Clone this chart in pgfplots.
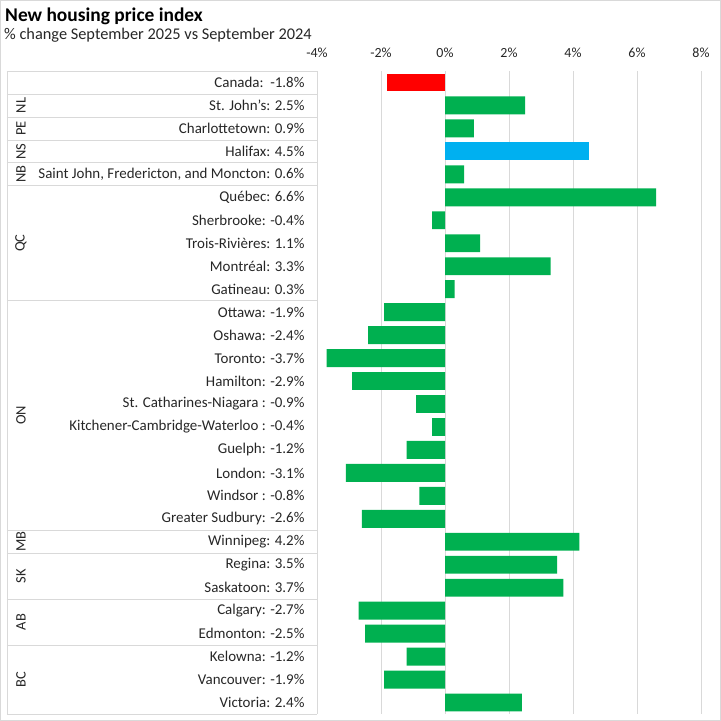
\documentclass[border=0pt]{standalone}
\usepackage{pgfplots}
\pgfplotsset{compat=1.18}
\usepackage{fontspec}
\setmainfont{Carlito}
\definecolor{barG}{HTML}{00B050}
\definecolor{barR}{HTML}{FF0000}
\definecolor{barB}{HTML}{00B0F0}
\definecolor{linegray}{HTML}{D9D9D9}
\definecolor{txt}{HTML}{262626}
\begin{document}
\begin{tikzpicture}[x=1bp,y=1bp]
\useasboundingbox (0,0) rectangle (721,-721);
\draw[linegray] (0.5,-0.5) rectangle (720.5,-720.5);
\node[anchor=west,inner sep=0pt,font=\fontsize{19.5}{22}\selectfont\bfseries,text=black] at (5,-16) {New housing price index};
\node[anchor=west,inner sep=0pt,font=\fontsize{16.4}{19}\selectfont,text=txt] at (4,-35) {\% change September 2025 vs September 2024};
\begin{axis}[
  at={(317bp,-71bp)}, anchor=north west,
  scale only axis, width=384bp, height=643bp,
  xmin=-4, xmax=8, ymin=-0.5, ymax=27.5, y dir=reverse,
  xbar, bar width=0.78, bar shift=0pt,
  xtick={-4,-2,0,2,4,6,8},
  xticklabels={-4\%,-2\%,0\%,2\%,4\%,6\%,8\%},
  xticklabel pos=upper,
  ytick={0,...,27},
  yticklabels={
    {Canada:\ \ -1.8\%},
    {St. John's: 2.5\%},
    {Charlottetown: 0.9\%},
    {Halifax: 4.5\%},
    {Saint John, Fredericton, and Moncton: 0.6\%},
    {Québec: 6.6\%},
    {Sherbrooke: -0.4\%},
    {Trois-Rivières: 1.1\%},
    {Montréal: 3.3\%},
    {Gatineau: 0.3\%},
    {Ottawa: -1.9\%},
    {Oshawa: -2.4\%},
    {Toronto: -3.7\%},
    {Hamilton: -2.9\%},
    {St. Catharines-Niagara : -0.9\%},
    {Kitchener-Cambridge-Waterloo : -0.4\%},
    {Guelph: -1.2\%},
    {London: -3.1\%},
    {Windsor : -0.8\%},
    {Greater Sudbury: -2.6\%},
    {Winnipeg: 4.2\%},
    {Regina: 3.5\%},
    {Saskatoon: 3.7\%},
    {Calgary: -2.7\%},
    {Edmonton: -2.5\%},
    {Kelowna: -1.2\%},
    {Vancouver: -1.9\%},
    {Victoria: 2.4\%}},
  xmajorgrids, grid style={linegray, line width=0.8pt},
  axis line style={draw=none},
  major tick length=0pt,
  tick label style={font=\fontsize{15}{17}\selectfont, text=txt},
  xticklabel style={font=\fontsize{14}{16}\selectfont, yshift=10bp},
  yticklabel style={xshift=-9bp},
  clip=false,
]
\addplot[fill=barR, draw=none] coordinates {(-1.8,0)};
\addplot[fill=barB, draw=none] coordinates {(4.5,3)};
\addplot[fill=barG, draw=none] coordinates {
  (2.5,1) (0.9,2) (0.6,4) (6.6,5) (-0.4,6) (1.1,7) (3.3,8) (0.3,9)
  (-1.9,10) (-2.4,11) (-3.7,12) (-2.9,13) (-0.9,14) (-0.4,15) (-1.2,16)
  (-3.1,17) (-0.8,18) (-2.6,19) (4.2,20) (3.5,21) (3.7,22) (-2.7,23)
  (-2.5,24) (-1.2,25) (-1.9,26) (2.4,27)};
% table lines on the left
\pgfplotsinvokeforeach{-0.5,0.5,1.5,2.5,3.5,4.5,9.5,19.5,20.5,22.5,24.5,27.5}{
  \draw[linegray, line width=0.8pt] ([xshift=-310bp]axis cs:-4,#1) -- (axis cs:-4,#1);
}
\draw[linegray, line width=0.8pt] ([xshift=-310bp]axis cs:-4,-0.5) -- ([xshift=-310bp]axis cs:-4,27.5);
% province labels
\pgfplotsinvokeforeach{{1/NL},{2/PE},{3/NS},{4/NB},{7/QC},{14.5/ON},{20/MB},{21.5/SK},{23.5/AB},{26/BC}}{
  \pgfplotsforeachungrouped \pos/\lab in {#1}{
    \edef\temp{\noexpand\node[rotate=90, font=\noexpand\fontsize{14.5}{17}\noexpand\selectfont, text=txt] at ([xshift=-296bp]axis cs:-4,\pos) {\lab};}
    \temp
  }
}
\end{axis}
\end{tikzpicture}
\end{document}
